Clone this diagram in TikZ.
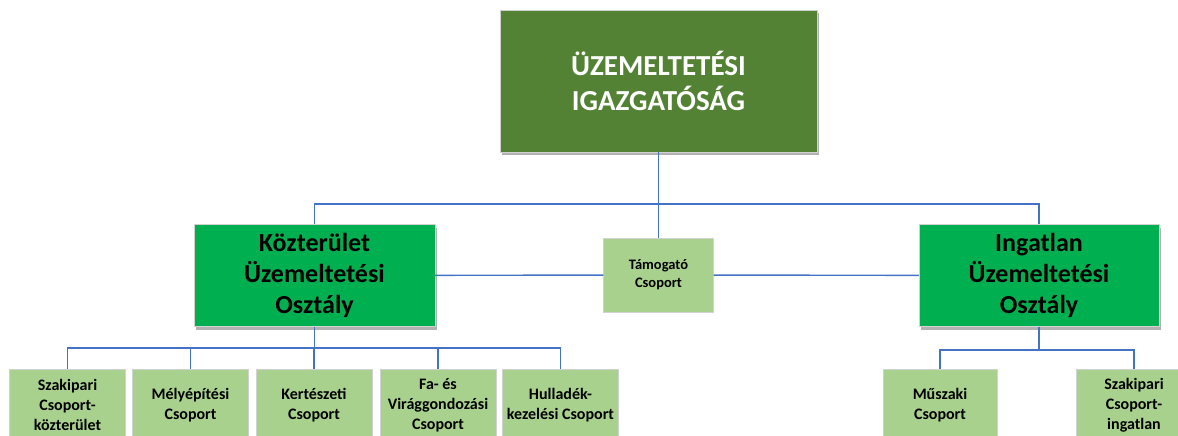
\documentclass[tikz,border=0pt]{standalone}
\usepackage{fontspec}
\setmainfont{Carlito}
\usetikzlibrary{positioning, shadows}
\definecolor{darkgreen}{HTML}{548235}
\definecolor{midgreen}{HTML}{00B050}
\definecolor{lightgreen}{HTML}{A9D18E}
\definecolor{linkblue}{HTML}{4472C4}
\tikzstyle{topblock} = [rectangle, draw=gray!35, fill=darkgreen, text=white, align=center,
minimum width=317pt, minimum height=142pt, font=\fontsize{29}{35}\selectfont\bfseries,
drop shadow={shadow xshift=2pt, shadow yshift=-3pt, fill=black, opacity=0.3}]
\tikzstyle{midblock} = [rectangle, draw=gray!35, fill=midgreen, align=center,
minimum height=102pt, font=\fontsize{26}{31}\selectfont\bfseries,
drop shadow={shadow xshift=2pt, shadow yshift=-3pt, fill=black, opacity=0.3}]
\tikzstyle{supblock} = [rectangle, draw=gray!35, fill=lightgreen, align=center,
minimum width=110pt, minimum height=74pt, font=\fontsize{14.5}{18}\selectfont\bfseries]
\tikzstyle{lowblock} = [rectangle, draw=gray!35, fill=lightgreen, align=center,
minimum width=116pt, minimum height=72pt, font=\fontsize{16}{20}\selectfont\bfseries]
\tikzstyle{link} = [linkblue, line width=1.4pt]

\begin{document}
\begin{tikzpicture}[x=1pt, y=-1pt]
	\path[use as bounding box, fill=white] (0,0) rectangle (1178,436);
	\node (Igazgatosag) [topblock] at (658.5,81) {ÜZEMELTETÉSI\\IGAZGATÓSÁG};
	\node (Kozterulet) [midblock, minimum width=241pt] at (314.5,275.5) {Közterület\\Üzemeltetési\\Osztály};
	\node (Ingatlan) [midblock, minimum width=240pt] at (1039,275.5) {Ingatlan\\Üzemeltetési\\Osztály};
	\node (Tamogato) [supblock] at (658.5,275) {Támogató\\Csoport};

	\node (SzakipariK) [lowblock] at (67.5,405) {Szakipari\\Csoport-\\közterület};
	\node (Melyepitesi) [lowblock] at (190.5,405) {Mélyépítési\\Csoport};
	\node (Kerteszeti) [lowblock] at (314,405) {Kertészeti\\Csoport};
	\node (Viraggondozasi) [lowblock] at (438,405) {Fa- és\\Virággondozási\\Csoport};
	\node (Hulladek) [lowblock] at (560.5,405) {Hulladék-\\kezelési Csoport};
	\node (Muszaki) [lowblock, minimum width=114pt] at (940,405) {Műszaki\\Csoport};
	\node (SzakipariI) [lowblock] at (1134,405) {Szakipari\\Csoport-\\ingatlan};

	\coordinate (TopBus) at (658.5,204);
	\coordinate (LeftBus) at (314.5,348);
	\coordinate (RightBus) at (1039,350);

	\draw [link] (Igazgatosag) -- (Tamogato);
	\draw [link] (TopBus) -| (Kozterulet);
	\draw [link] (TopBus) -| (Ingatlan);
	\draw [link] (Kozterulet) -- (Tamogato);
	\draw [link] (Tamogato) -- (Ingatlan);

	\draw [link] (Kozterulet) -- (LeftBus);
	\foreach \n in {SzakipariK, Melyepitesi, Kerteszeti, Viraggondozasi, Hulladek}
		\draw [link] (LeftBus) -| (\n);
	\draw [link] (Ingatlan) -- (RightBus);
	\foreach \n in {Muszaki, SzakipariI}
		\draw [link] (RightBus) -| (\n);
\end{tikzpicture}
\end{document}
